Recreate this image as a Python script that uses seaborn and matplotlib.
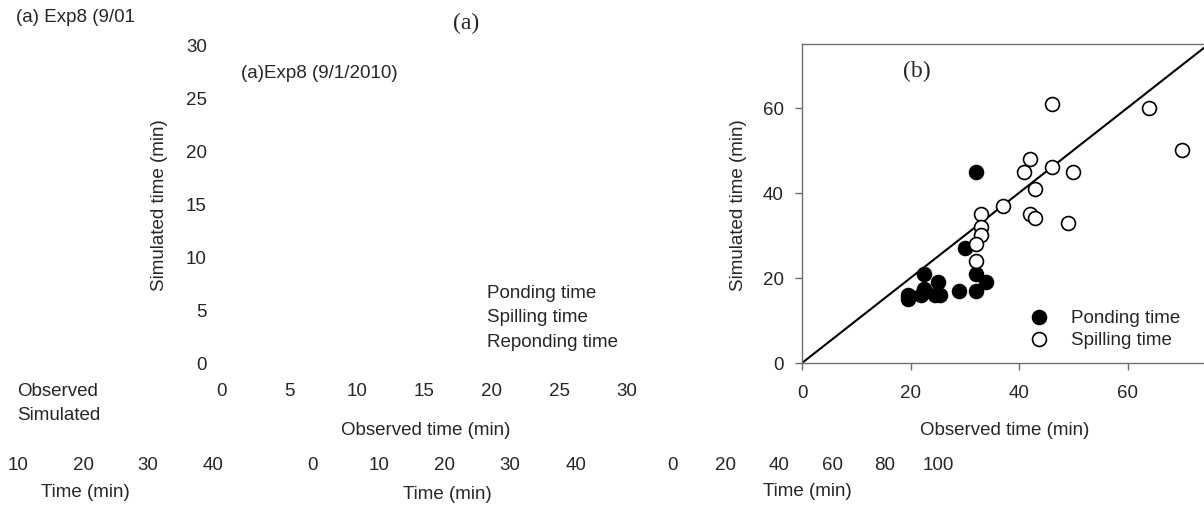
import matplotlib
matplotlib.use("Agg")
import matplotlib.pyplot as plt
import seaborn as sns
import pandas as pd

# ---------------- data ----------------
ponding_obs = [32, 30, 22.5, 32, 25, 34, 22.5, 29, 32, 19.5, 19.5, 22, 24.5, 25.5]
ponding_sim = [45, 27, 21, 21, 19, 19, 17.5, 17, 17, 16, 15, 16, 16, 16]
spilling_obs = [46, 64, 70, 42, 41, 46, 50, 43, 37, 42, 43, 49, 33, 33, 33, 32, 32]
spilling_sim = [61, 60, 50, 48, 45, 46, 45, 41, 37, 35, 34, 33, 35, 32, 30, 28, 24]
series_names = ["Ponding time", "Spilling time"]

panel_a_ticks = [0, 5, 10, 15, 20, 25, 30]
panel_a_legend = ["Ponding time", "Spilling time", "Reponding time"]
panel_a_series = ["Observed", "Simulated"]
panel_b_ticks = [0, 20, 40, 60]
row1_ticks = [10, 20, 30, 40]
row2_ticks = [0, 10, 20, 30, 40]
row3_ticks = [0, 20, 40, 60, 80, 100]
one_to_one = [0, 80]

# ---------------- style ----------------
sns.set_style("white")
plt.rcParams["font.family"] = ["Liberation Sans", "DejaVu Sans"]
FS = 13.5

W, H = 1204, 506
fig = plt.figure(figsize=(W / 100, H / 100), dpi=100)


def fx(px):
    return px / W


def fy(py):
    return 1 - py / H


def box(l, t, r, b):
    return [fx(l), fy(b), (r - l) / W, (b - t) / H]


# ---------------- panel (a): empty axes ----------------
ax_a = fig.add_axes(box(222, 46, 627, 364))
ax_a.set_xlim(0, 30)
ax_a.set_ylim(0, 30)
ax_a.set_xticks(panel_a_ticks)
ax_a.set_yticks(panel_a_ticks)
ax_a.set_xticklabels([str(t) for t in panel_a_ticks])
ax_a.set_yticklabels([str(t) for t in panel_a_ticks])
for s in ax_a.spines.values():
    s.set_visible(False)
ax_a.tick_params(axis="x", length=0, pad=14, labelsize=FS)
ax_a.tick_params(axis="y", length=0, pad=11, labelsize=FS)
ax_a.set_facecolor("none")
ax_a.set_xlabel("Observed time (min)", fontsize=FS)
ax_a.set_ylabel("Simulated time (min)", fontsize=FS)
ax_a.xaxis.set_label_coords(fx(426), fy(422), transform=fig.transFigure)
ax_a.yaxis.set_label_coords(fx(168), fy(205), transform=fig.transFigure)

fig.text(fx(16), fy(18), "(a) Exp8 (9/01", fontsize=FS, ha="left", va="center")
fig.text(fx(466), fy(23), "(a)", fontsize=17, ha="center", va="center",
         family=["Liberation Serif", "DejaVu Serif"])
fig.text(fx(241), fy(73), "(a)Exp8 (9/1/2010)", fontsize=FS, ha="left", va="center")
for i, name in enumerate(panel_a_legend):
    fig.text(fx(487), fy(293 + 25 * i), name, fontsize=FS, ha="left", va="center")
for i, name in enumerate(panel_a_series):
    fig.text(fx(17.5), fy(392 + 23 * i), name, fontsize=FS, ha="left", va="center")

# ---------------- bottom rows of stray axes ----------------
rows = [
    (row1_ticks, 18, 213, 85, 493),
    (row2_ticks, 313, 576, 447, 495),
    (row3_ticks, 673, 938, 807, 492),
]
for ticks, left, right, lab_x, lab_y in rows:
    axr = fig.add_axes([fx(left), fy(457), (right - left) / W, 0.0001])
    axr.set_xlim(ticks[0], ticks[-1])
    axr.set_xticks(ticks)
    axr.set_xticklabels([str(t) for t in ticks])
    axr.set_yticks([])
    for s in axr.spines.values():
        s.set_visible(False)
    axr.set_facecolor("none")
    axr.tick_params(axis="x", length=0, pad=0, labelsize=FS)
    fig.text(fx(lab_x), fy(lab_y), "Time (min)", fontsize=FS, ha="center", va="center")

# ---------------- panel (b): scatter ----------------
ax_b = fig.add_axes(box(802, 45, 1236, 364))
ax_b.plot(one_to_one, one_to_one, color="black", lw=1.5, zorder=1)
df_p = pd.DataFrame({"obs": ponding_obs, "sim": ponding_sim})
df_s = pd.DataFrame({"obs": spilling_obs, "sim": spilling_sim})
sns.scatterplot(data=df_p, x="obs", y="sim", ax=ax_b, s=100, color="black",
                edgecolor="black", linewidth=1.2, label=series_names[0], zorder=3)
sns.scatterplot(data=df_s, x="obs", y="sim", ax=ax_b, s=100, color="white",
                edgecolor="black", linewidth=1.2, label=series_names[1], zorder=3)
ax_b.set_xlim(0, 80)
ax_b.set_ylim(0, 75)
ax_b.set_xticks(panel_b_ticks)
ax_b.set_yticks(panel_b_ticks)
for s in ax_b.spines.values():
    s.set_color("#6e6e6e")
    s.set_linewidth(1.0)
ax_b.tick_params(axis="both", direction="out", length=5, width=1.0,
                 color="#6e6e6e", labelsize=FS, bottom=True, left=True)
ax_b.tick_params(axis="x", pad=10)
ax_b.tick_params(axis="y", pad=8)
ax_b.set_xlabel("Observed time (min)", fontsize=FS)
ax_b.set_ylabel("Simulated time (min)", fontsize=FS)
ax_b.xaxis.set_label_coords(fx(1005), fy(422), transform=fig.transFigure)
ax_b.yaxis.set_label_coords(fx(747), fy(205), transform=fig.transFigure)
ax_b.text(fx(917), fy(71), "(b)", transform=fig.transFigure, fontsize=17,
          ha="center", va="center", family=["Liberation Serif", "DejaVu Serif"])
ax_b.legend(loc="center left", bbox_to_anchor=(fx(1030), fy(329.5)),
            bbox_transform=fig.transFigure, frameon=False, fontsize=FS,
            handlelength=1.0, handletextpad=1.2, labelspacing=0.25,
            borderpad=0, borderaxespad=0)

fig.savefig("out.png", dpi=100)
